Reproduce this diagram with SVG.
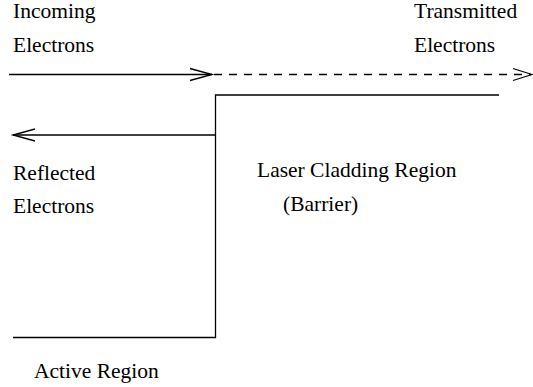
<svg xmlns="http://www.w3.org/2000/svg" width="533" height="387" viewBox="0 0 533 387">
<style>
text{font-family:"Liberation Serif","Times New Roman",serif;font-size:21.5px;fill:#000}
.ln{stroke:#000;stroke-width:1.3;fill:none}
.dash{stroke-dasharray:8 7}
</style>
<rect width="533" height="387" fill="#fff"/>
<g id="step">
<polyline class="ln" points="13,337.5 215.5,337.5 215.5,95 499,95"/>
</g>
<g id="connectors">
<line class="ln" x1="9" y1="74.5" x2="212" y2="74.5"/>
<polyline class="ln" points="190,68.5 212,74.5 190,80.5"/>
<line class="ln dash" x1="214" y1="74.5" x2="531" y2="74.5"/>
<polyline class="ln" points="513,68.5 532,74.5 513,80.5"/>
<line class="ln" x1="13" y1="135" x2="215.5" y2="135"/>
<polyline class="ln" points="35,129 13,135 35,141"/>
</g>
<g id="incoming"><text x="13" y="18">Incoming</text><text x="13" y="52">Electrons</text></g>
<g id="transmitted"><text x="414" y="18">Transmitted</text><text x="414" y="52">Electrons</text></g>
<g id="reflected"><text x="13" y="180">Reflected</text><text x="13" y="213">Electrons</text></g>
<g id="barrier"><text x="257" y="177">Laser Cladding Region</text><text x="283" y="211">(Barrier)</text></g>
<g id="active"><text x="34" y="378">Active Region</text></g>
</svg>
